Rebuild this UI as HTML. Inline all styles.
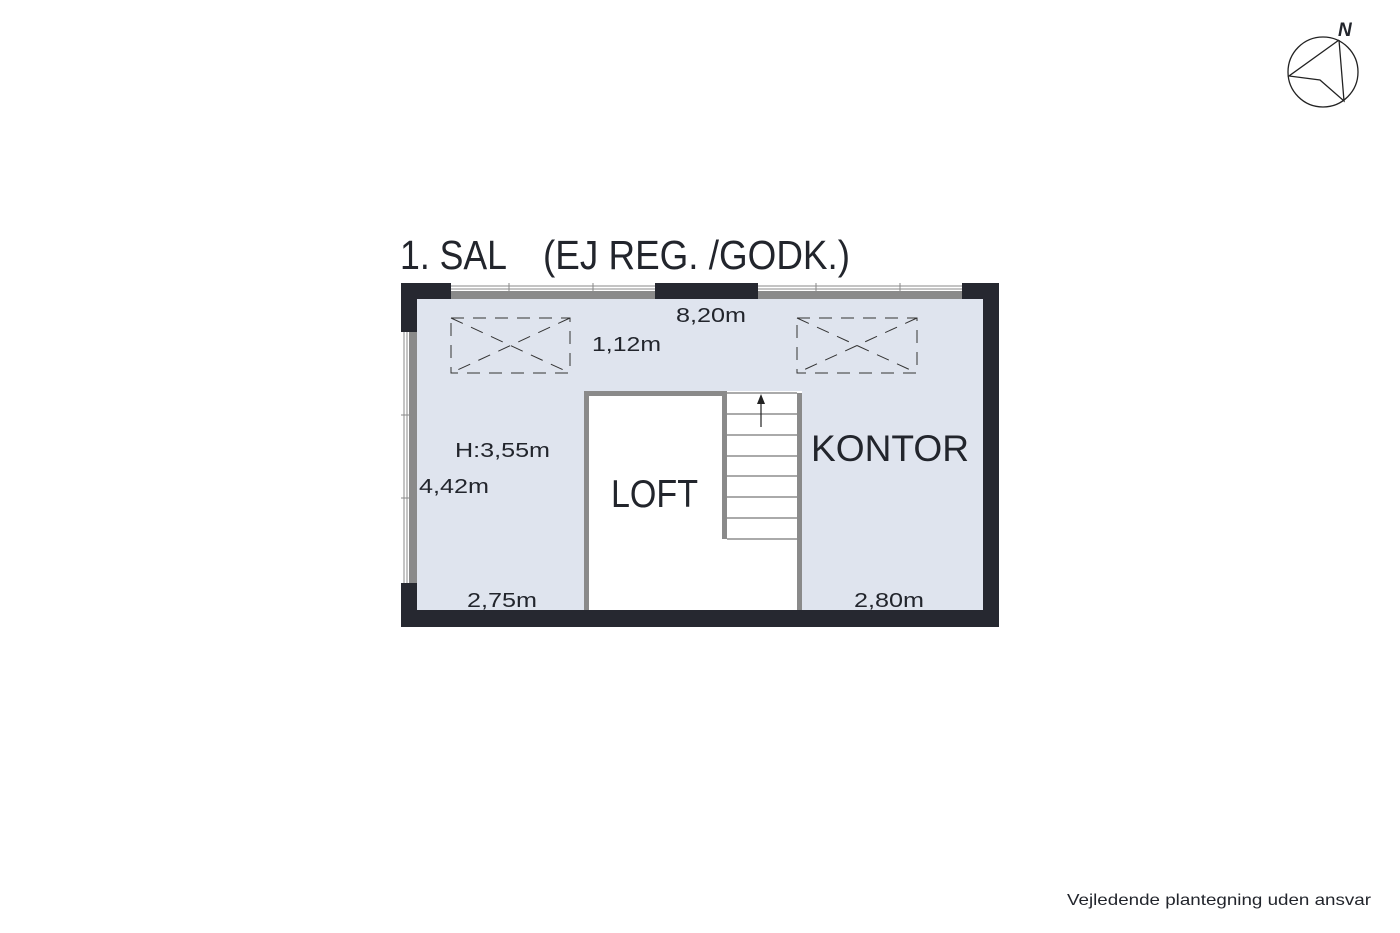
<!DOCTYPE html>
<html><head><meta charset="utf-8"><style>
html,body{margin:0;padding:0;background:#fff;}
svg{display:block;}
text{font-family:"Liberation Sans",sans-serif;fill:#22252c;}
</style></head><body>
<svg width="1400" height="933" viewBox="0 0 1400 933" xmlns="http://www.w3.org/2000/svg">
<rect width="1400" height="933" fill="#fff"/>
<!-- title -->
<text x="400" y="269" font-size="41" textLength="107" lengthAdjust="spacingAndGlyphs">1. SAL</text>
<text x="543" y="269" font-size="41" textLength="307" lengthAdjust="spacingAndGlyphs">(EJ REG. /GODK.)</text>
<!-- outer walls -->
<rect x="401" y="283" width="598" height="344" fill="#262830"/>
<rect x="417" y="299" width="566" height="311" fill="#dfe4ee"/>
<!-- top windows -->
<rect x="451" y="283" width="204" height="16" fill="#fff"/>
<rect x="451" y="291" width="204" height="8" fill="#8a8a8a"/>
<line x1="451" y1="286" x2="655" y2="286" stroke="#888" stroke-width="1"/>
<line x1="451" y1="289" x2="655" y2="289" stroke="#888" stroke-width="1"/>
<line x1="509" y1="283" x2="509" y2="291" stroke="#888"/>
<line x1="593" y1="283" x2="593" y2="291" stroke="#888"/>
<rect x="758" y="283" width="204" height="16" fill="#fff"/>
<rect x="758" y="291" width="204" height="8" fill="#8a8a8a"/>
<line x1="758" y1="286" x2="962" y2="286" stroke="#888"/>
<line x1="758" y1="289" x2="962" y2="289" stroke="#888"/>
<line x1="816" y1="283" x2="816" y2="291" stroke="#888"/>
<line x1="900" y1="283" x2="900" y2="291" stroke="#888"/>
<!-- left window -->
<rect x="401" y="332" width="16" height="251" fill="#fff"/>
<rect x="409" y="332" width="8" height="251" fill="#8a8a8a"/>
<line x1="404" y1="332" x2="404" y2="583" stroke="#888"/>
<line x1="407" y1="332" x2="407" y2="583" stroke="#888"/>
<line x1="401" y1="415" x2="409" y2="415" stroke="#888"/>
<line x1="401" y1="498" x2="409" y2="498" stroke="#888"/>
<!-- skylights -->
<g fill="none" stroke="#333" stroke-width="1" stroke-dasharray="13,9">
<rect x="451" y="318" width="119" height="55"/>
<line x1="451" y1="318" x2="570" y2="373"/>
<line x1="570" y1="318" x2="451" y2="373"/>
<rect x="797" y="318" width="120" height="55"/>
<line x1="797" y1="318" x2="917" y2="373"/>
<line x1="917" y1="318" x2="797" y2="373"/>
</g>
<!-- loft -->
<rect x="584" y="391" width="218" height="219" fill="#fff"/>
<rect x="584" y="391" width="5" height="219" fill="#8a8a8a"/>
<rect x="584" y="391" width="143" height="5" fill="#8a8a8a"/>
<rect x="722" y="391" width="5" height="148" fill="#8a8a8a"/>
<rect x="797" y="393" width="5" height="217" fill="#8a8a8a"/>
<g stroke="#777" stroke-width="1.2">
<line x1="727" y1="393" x2="797" y2="393"/>
<line x1="727" y1="414" x2="797" y2="414"/>
<line x1="727" y1="435" x2="797" y2="435"/>
<line x1="727" y1="456" x2="797" y2="456"/>
<line x1="727" y1="476" x2="797" y2="476"/>
<line x1="727" y1="497" x2="797" y2="497"/>
<line x1="727" y1="518" x2="797" y2="518"/>
<line x1="727" y1="539" x2="797" y2="539"/>
</g>
<line x1="761" y1="427" x2="761" y2="400" stroke="#222" stroke-width="1.2"/>
<polygon points="761,394 757,404 765,404" fill="#222"/>
<!-- labels -->
<text x="611" y="507" font-size="39" textLength="87" lengthAdjust="spacingAndGlyphs">LOFT</text>
<text x="811" y="461" font-size="37" textLength="158" lengthAdjust="spacingAndGlyphs">KONTOR</text>
<g font-size="20">
<text x="676" y="322" textLength="70" lengthAdjust="spacingAndGlyphs">8,20m</text>
<text x="592" y="351" textLength="69" lengthAdjust="spacingAndGlyphs">1,12m</text>
<text x="455" y="457" textLength="95" lengthAdjust="spacingAndGlyphs">H:3,55m</text>
<text x="419" y="493" textLength="70" lengthAdjust="spacingAndGlyphs">4,42m</text>
<text x="467" y="607" textLength="70" lengthAdjust="spacingAndGlyphs">2,75m</text>
<text x="854" y="607" textLength="70" lengthAdjust="spacingAndGlyphs">2,80m</text>
</g>
<!-- compass -->
<circle cx="1323" cy="72" r="35" fill="none" stroke="#222" stroke-width="1.3"/>
<polyline points="1339,40 1289,76 1320,80 1344,101 1339,40" fill="none" stroke="#222" stroke-width="1.3"/>
<text x="1338" y="36" font-size="19" font-weight="bold" font-style="italic">N</text>
<text x="1067" y="905" font-size="16" textLength="304" lengthAdjust="spacingAndGlyphs">Vejledende plantegning uden ansvar</text>
</svg>
</body></html>
